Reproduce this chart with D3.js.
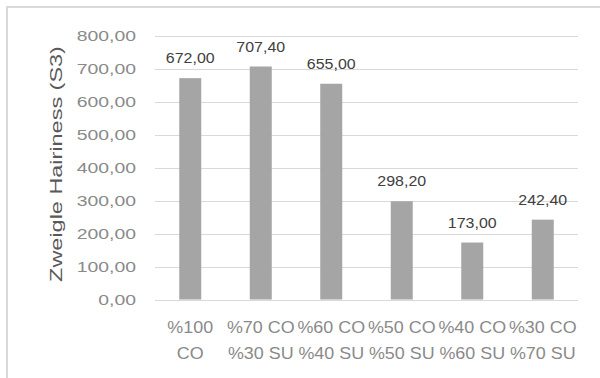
<!DOCTYPE html>
<html>
<head>
<meta charset="utf-8">
<script src="https://cdn.jsdelivr.net/npm/d3@7"></script>
<style>
  body { margin: 0; background: #fff; }
  svg { display: block; font-family: "Liberation Sans", Arial, sans-serif; }
</style>
</head>
<body>
<script>
var w = 600;
var h = 378;

// data
var categories = ["%100 CO", "%70 CO %30 SU", "%60 CO %40 SU", "%50 CO %50 SU", "%40 CO %60 SU", "%30 CO %70 SU"];
var catLines = [["%100", "CO"], ["%70 CO", "%30 SU"], ["%60 CO", "%40 SU"], ["%50 CO", "%50 SU"], ["%40 CO", "%60 SU"], ["%30 CO", "%70 SU"]];
var values = [672.00, 707.40, 655.00, 298.20, 173.00, 242.40];
var yTicks = [0, 100, 200, 300, 400, 500, 600, 700, 800];
var yTitle = "Zweigle Hairiness (S3)";

var locale = d3.formatLocale({ decimal: ",", thousands: ".", grouping: [3], currency: ["", ""] });
var fmt = locale.format(".2f");

var svg = d3.select("body").append("svg")
    .attr("width", w)
    .attr("height", h);

// chart frame (only top and left edges are visible)
svg.append("line").attr("x1", 6).attr("x2", w).attr("y1", 7).attr("y2", 7)
    .attr("stroke", "#d9d9d9").attr("stroke-width", 2);
svg.append("line").attr("x1", 7).attr("x2", 7).attr("y1", 6).attr("y2", h)
    .attr("stroke", "#d9d9d9").attr("stroke-width", 2);

var xScale = d3.scaleBand()
    .domain(categories)
    .range([155, 578])
    .paddingInner(0.688)
    .paddingOuter(0.344);

var yScale = d3.scaleLinear()
    .domain([0, 800])
    .range([299.5, 36]);

// gridlines
svg.append("g").selectAll("line")
    .data(yTicks)
    .enter().append("line")
    .attr("x1", 155).attr("x2", 578)
    .attr("y1", function(d){ return Math.round(yScale(d)) + 0.5; })
    .attr("y2", function(d){ return Math.round(yScale(d)) + 0.5; })
    .attr("stroke", "#d9d9d9")
    .attr("stroke-width", 1);

// y axis labels
var yAxis = d3.axisLeft(yScale)
    .tickValues(yTicks)
    .tickFormat(fmt)
    .tickSize(0)
    .tickPadding(0);

var gy = svg.append("g").attr("transform", "translate(136,0)").call(yAxis);
gy.select(".domain").remove();
gy.selectAll("text")
    .attr("font-family", "'Liberation Sans', Arial, sans-serif")
    .attr("font-size", 15.5)
    .attr("fill", "#8a8a8a")
    .attr("transform", "scale(1.25,1)");

// bars
svg.append("g").selectAll("rect")
    .data(values)
    .enter().append("rect")
    .attr("x", function(d, i){ return xScale(categories[i]); })
    .attr("y", function(d){ return yScale(d); })
    .attr("width", xScale.bandwidth())
    .attr("height", function(d){ return yScale(0) - yScale(d); })
    .attr("fill", "#a5a5a5");

// value labels
svg.append("g").selectAll("text")
    .data(values)
    .enter().append("text")
    .attr("transform", function(d, i){
        var cx = xScale(categories[i]) + xScale.bandwidth() / 2;
        return "translate(" + cx + "," + (yScale(d) - 15) + ") scale(1.1,1)";
    })
    .attr("text-anchor", "middle")
    .attr("font-size", 14.5)
    .attr("fill", "#404040")
    .text(function(d){ return fmt(d); });

// x category labels, two lines each
var xl = svg.append("g").selectAll("g")
    .data(catLines)
    .enter().append("g")
    .attr("transform", function(d, i){
        return "translate(" + (xScale(categories[i]) + xScale.bandwidth() / 2) + ",0) scale(1.12,1)";
    });

xl.selectAll("text")
    .data(function(d){ return d; })
    .enter().append("text")
    .attr("x", 0)
    .attr("y", function(d, j){ return 333 + j * 26; })
    .attr("text-anchor", "middle")
    .attr("font-size", 16)
    .attr("fill", "#8a8a8a")
    .text(function(d){ return d; });

// y axis title
svg.append("text")
    .attr("transform", "translate(62,164) rotate(-90) scale(1.38,1)")
    .attr("text-anchor", "middle")
    .attr("font-size", 17)
    .attr("fill", "#595959")
    .text(yTitle);
</script>
</body>
</html>
